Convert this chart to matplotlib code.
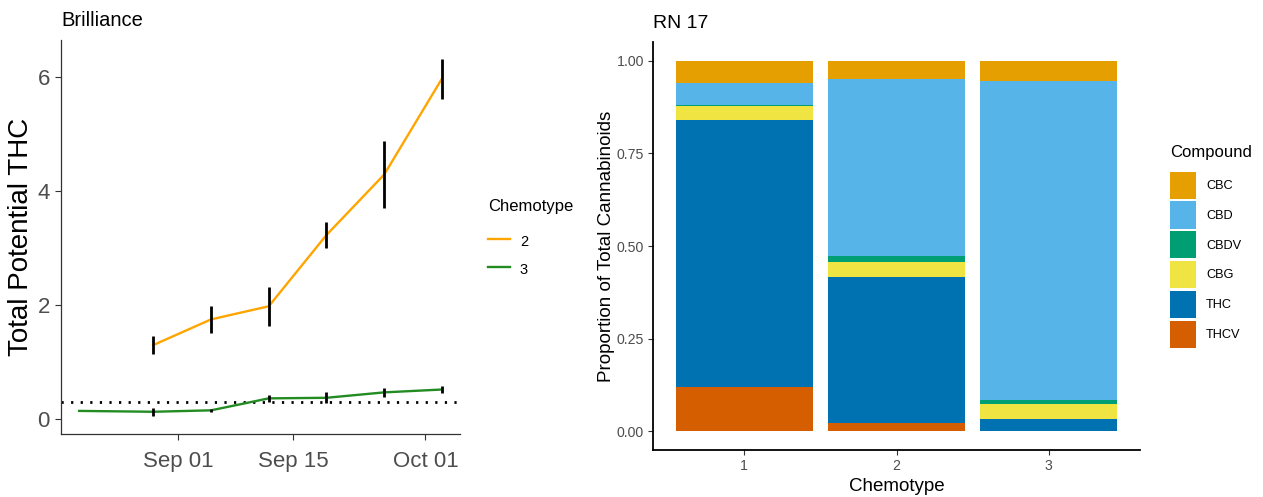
import matplotlib
matplotlib.use('Agg')
import matplotlib.pyplot as plt
import matplotlib.dates as mdates
from matplotlib.patches import Patch
from matplotlib.lines import Line2D
import numpy as np
import pandas as pd

plt.rcParams['font.family'] = ['Liberation Sans', 'DejaVu Sans']

# ---------------- Left panel data ----------------
dates_chemo2 = ['2020-08-29', '2020-09-05', '2020-09-12', '2020-09-19', '2020-09-26', '2020-10-03']
thc_chemo2 = [1.30, 1.75, 1.98, 3.23, 4.29, 5.97]
err_chemo2 = [0.16, 0.24, 0.34, 0.23, 0.58, 0.35]

dates_chemo3 = ['2020-08-20', '2020-08-29', '2020-09-05', '2020-09-12', '2020-09-19', '2020-09-26', '2020-10-03']
thc_chemo3 = [0.145, 0.13, 0.155, 0.365, 0.375, 0.47, 0.52]
err_chemo3 = [0.0, 0.07, 0.03, 0.06, 0.10, 0.075, 0.065]

threshold = 0.3
x_ticks = ['2020-09-01', '2020-09-15', '2020-10-01']
y_ticks_left = [0, 2, 4, 6]

# ---------------- Right panel data ----------------
chemotypes = ['1', '2', '3']
compounds = ['CBC', 'CBD', 'CBDV', 'CBG', 'THC', 'THCV']
CBC = [0.061, 0.050, 0.055]
CBD = [0.057, 0.477, 0.861]
CBDV = [0.004, 0.017, 0.011]
CBG = [0.038, 0.040, 0.040]
THC = [0.720, 0.393, 0.031]
THCV = [0.120, 0.023, 0.002]
y_ticks_right = [0.00, 0.25, 0.50, 0.75, 1.00]

compound_colors = {'CBC': '#E69F00', 'CBD': '#56B4E9', 'CBDV': '#009E73',
                   'CBG': '#F0E442', 'THC': '#0072B2', 'THCV': '#D55E00'}

W, H = 1263, 497
fig = plt.figure(figsize=(W / 100, H / 100), dpi=100)

def px_axes(x0, y0, x1, y1):
    return fig.add_axes([x0 / W, 1 - y1 / H, (x1 - x0) / W, (y1 - y0) / H])

grey = '#4D4D4D'

# ================= Left panel =================
L = (61, 40, 460, 434)
ax1 = px_axes(*L)
d2 = pd.to_datetime(dates_chemo2)
d3 = pd.to_datetime(dates_chemo3)

ax1.axhline(threshold, color='black', lw=2.0, linestyle=(0, (0.8, 2.65)), zorder=1)
ax1.plot(d2, thc_chemo2, color='#FFA500', lw=1.7, zorder=2)
ax1.plot(d3, thc_chemo3, color='#228B22', lw=1.7, zorder=2)
ax1.errorbar(d2, thc_chemo2, yerr=err_chemo2, fmt='none', ecolor='black', elinewidth=2.0, capsize=0, zorder=3)
mask = np.array(err_chemo3) > 0
ax1.errorbar(d3[mask], np.array(thc_chemo3)[mask], yerr=np.array(err_chemo3)[mask],
             fmt='none', ecolor='black', elinewidth=2.0, capsize=0, zorder=3)

x0 = mdates.date2num(pd.Timestamp(dates_chemo3[0]))
x1 = mdates.date2num(pd.Timestamp(dates_chemo3[-1]))
span = x1 - x0
ax1.set_xlim(x0 - 0.05 * span, x1 + 0.05 * span)
ax1.set_ylim(-0.26, 6.65)
ax1.set_xticks(pd.to_datetime(x_ticks))
ax1.xaxis.set_major_formatter(mdates.DateFormatter('%b %d'))
ax1.set_yticks(y_ticks_left)
ax1.tick_params(axis='both', labelsize=16, labelcolor=grey, color='#333333', length=4, width=0.8)
ax1.tick_params(axis='x', pad=8)
ax1.tick_params(axis='y', pad=4)
for s in ['top', 'right']:
    ax1.spines[s].set_visible(False)
for s in ['left', 'bottom']:
    ax1.spines[s].set_color('#333333')
    ax1.spines[s].set_linewidth(0.9)
ax1.set_ylabel('Total Potential THC', fontsize=20, color='black')
ax1.yaxis.set_label_coords((34 - L[0]) / (L[2] - L[0]), 0.5)
ax1.set_title('Brilliance', fontsize=14.5, loc='left', pad=10, x=0.0)

leg1 = ax1.legend(handles=[Line2D([], [], color='#FFA500', lw=1.7),
                           Line2D([], [], color='#228B22', lw=1.7)],
                  labels=['2', '3'], title='Chemotype', frameon=False,
                  fontsize=10.5, title_fontsize=12, handlelength=1.5, handleheight=1.4,
                  handletextpad=0.7,
                  bbox_to_anchor=(482 / W, 1 - 193 / H), bbox_transform=fig.transFigure,
                  loc='upper left', labelspacing=0.75, alignment='left', borderaxespad=0)
leg1._legend_box.sep += 5.8

# ================= Right panel =================
R = (653, 42.3, 1140, 450)
ax2 = px_axes(*R)
xpos = np.arange(1, len(chemotypes) + 1)
stack_order = ['THCV', 'THC', 'CBG', 'CBDV', 'CBD', 'CBC']
vals = {'CBC': CBC, 'CBD': CBD, 'CBDV': CBDV, 'CBG': CBG, 'THC': THC, 'THCV': THCV}
bottom = np.zeros(len(chemotypes))
for c in stack_order:
    v = np.array(vals[c])
    ax2.bar(xpos, v, bottom=bottom, width=0.9, color=compound_colors[c], linewidth=0)
    bottom += v
ax2.set_xlim(0.4, 3.6)
ax2.set_ylim(-0.05, 1.05)
ax2.set_xticks(xpos)
ax2.set_xticklabels(chemotypes)
ax2.set_yticks(y_ticks_right)
ax2.set_yticklabels([f'{t:.2f}' for t in y_ticks_right])
ax2.tick_params(axis='both', labelsize=10.2, labelcolor=grey, color='#333333', length=3.5, width=0.8, pad=3)
for s in ['top', 'right']:
    ax2.spines[s].set_visible(False)
for s in ['left', 'bottom']:
    ax2.spines[s].set_color('black')
    ax2.spines[s].set_linewidth(1.3)
ax2.set_xlabel('Chemotype', fontsize=13.5)
ax2.xaxis.set_label_coords(0.5, (R[3] - 478) / (R[3] - R[1]))
ax2.set_ylabel('Proportion of Total Cannabinoids', fontsize=13.5)
ax2.yaxis.set_label_coords((615 - R[0]) / (R[2] - R[0]), 0.5)
ax2.set_title('RN 17', fontsize=14, loc='left', pad=10, x=0.0)

handles = [Patch(facecolor=compound_colors[c], edgecolor='none') for c in compounds]
leg2 = ax2.legend(handles=handles, labels=compounds, title='Compound', frameon=False,
                  fontsize=9.2, title_fontsize=12, handlelength=2.0, handleheight=2.9,
                  labelspacing=0.2, handletextpad=0.8, alignment='left',
                  bbox_to_anchor=(1165 / W, 1 - 140 / H), bbox_transform=fig.transFigure,
                  loc='upper left', borderaxespad=0)
leg2._legend_box.sep += 6.5

fig.savefig('out.png', dpi=100)
